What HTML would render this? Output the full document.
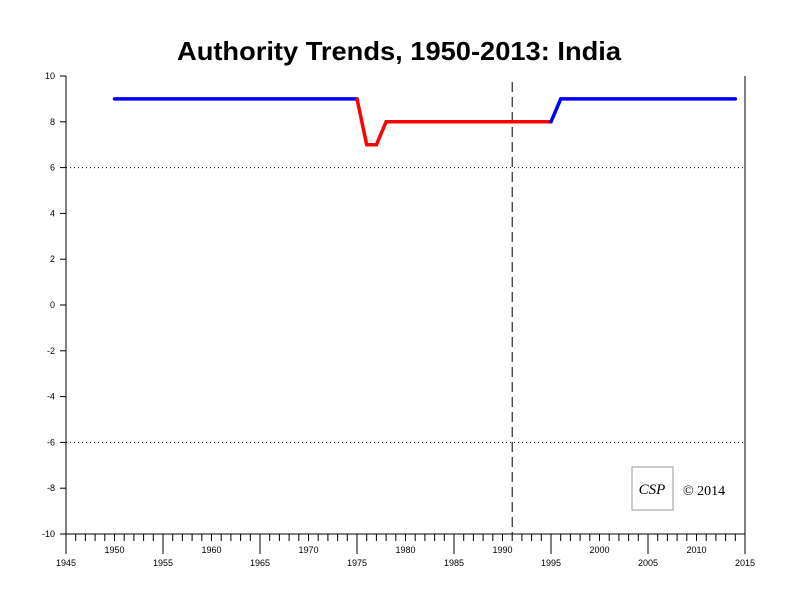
<!DOCTYPE html>
<html><head><meta charset="utf-8"><style>
body{margin:0;background:#fff;}
svg{display:block;font-family:"Liberation Sans",sans-serif;}
</style></head><body>
<svg id="chart" width="800" height="600" viewBox="0 0 800 600">
<rect width="800" height="600" fill="#fff"/>
<text x="399" y="60" text-anchor="middle" font-size="26" font-weight="bold" textLength="444" lengthAdjust="spacingAndGlyphs">Authority Trends, 1950-2013: India</text>
<g id="axes"></g>
<g id="series"></g>
<g>
<rect x="632" y="467" width="41" height="43" fill="#fff" stroke="#999" stroke-width="1"/>
<text x="652" y="494" text-anchor="middle" font-family="Liberation Serif,serif" font-style="italic" font-size="15">CSP</text>
</g>
<text x="683" y="495" font-size="14" font-family="Liberation Serif,serif">© 2014</text>
</svg>
<script>
const years=[1950,1975,1976,1977,1978,1995,1996,2014];
const values=[9,9,7,7,8,8,9,9];
const colors=['blue','red','red','red','red','blue','blue'];
const yTicks=[10,8,6,4,2,0,-2,-4,-6,-8,-10];
const xTickLabels=[1945,1950,1955,1960,1965,1970,1975,1980,1985,1990,1995,2000,2005,2010,2015];
const refYear=1991;
const dottedLevels=[6,-6];
const NS='http://www.w3.org/2000/svg';
const X=y=>66+(y-1945)*(745-66)/70;
const Y=v=>305-v*22.9;
function mk(p,t,a){const e=document.createElementNS(NS,t);for(const k in a)e.setAttribute(k,a[k]);p.appendChild(e);return e;}
const ax=document.getElementById('axes'),se=document.getElementById('series');
let e;
e=mk(ax,'line',{x1:66,y1:Y(10),x2:66,y2:Y(-10),stroke:'#000'});


e=mk(ax,'line',{x1:745,y1:Y(10),x2:745,y2:Y(-10)+12,stroke:'#000'});


e=mk(ax,'line',{x1:66,y1:Y(-10),x2:745,y2:Y(-10),stroke:'#000'});


yTicks.forEach(v=>{
 mk(ax,'line',{x1:60,y1:Y(v),x2:66,y2:Y(v),stroke:'#000'});
 e=mk(ax,'text',{x:55,y:Y(v)+3,'text-anchor':'end','font-size':9});
 e.textContent=v;
 
 
});
for(let yr=1945;yr<=2015;yr++){
 const big=(yr-1945)%10===0;
 mk(ax,'line',{x1:X(yr),y1:Y(-10),x2:X(yr),y2:Y(-10)+(big?20:7),stroke:'#000'});
}
xTickLabels.forEach(yr=>{
 const low=(yr-1945)%10===0;
 e=mk(ax,'text',{x:X(yr),y:low?566:553,'text-anchor':'middle','font-size':9});
 e.textContent=yr;
 
 
});
dottedLevels.forEach(v=>{
 e=mk(ax,'line',{x1:66,y1:Y(v),x2:745,y2:Y(v),stroke:'#000','stroke-dasharray':'1,3'});
 
 
});
e=mk(ax,'line',{x1:X(refYear),y1:82,x2:X(refYear),y2:Y(-10),stroke:'#000','stroke-dasharray':'10,5'});


for(let i=0;i<years.length-1;i++){
 e=mk(se,'line',{x1:X(years[i]),y1:Y(values[i]),x2:X(years[i+1]),y2:Y(values[i+1]),stroke:colors[i],'stroke-width':3.5,'stroke-linecap':'round'});
 
 
}
</script>
</body></html>
